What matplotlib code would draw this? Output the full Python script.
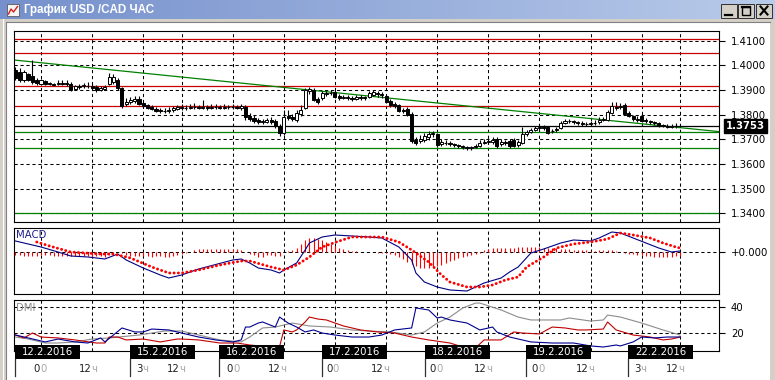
import numpy as np
import matplotlib
matplotlib.use("Agg")
import matplotlib.pyplot as plt
from matplotlib.patches import Rectangle
from matplotlib import transforms as mtrans
from matplotlib.colors import LinearSegmentedColormap

# ---------------- data (prices in 1e-4 units) ----------------
opens = [13981,13972,13940,13964,13956,13940,
 13924,13936,13928,13924,13924,13928,13928,13924,13904,13912,13916,13916,13916,13912,13899,13904,13924,13932,13940,13908,
 13843,13851,13855,13863,13847,13839,13831,13823,13819,13815,13815,13819,13823,13831,13827,13827,13831,13831,13827,13831,
 13827,13831,13831,13827,13831,13831,13831,13827,13831,13794,13786,13778,13770,13770,13778,13774,13754,13725,13794,13790,
 13778,13803,13827,13895,13899,13863,13867,13883,13887,13891,13875,13867,13871,13867,13863,13871,13867,13871,13879,13887,
 13883,13875,13855,13843,13839,13819,13823,13803,13697,13693,13697,13709,13721,13721,13681,13685,13685,13681,13677,13673,
 13669,13665,13669,13673,13685,13689,13689,13701,13681,13689,13693,13697,13677,13685,13721,13729,13737,13746,13750,13750,
 13733,13737,13746,13766,13774,13774,13770,13766,13762,13762,13766,13770,13778,13778,13807,13831,13831,13839,13807,13794,
 13782,13794,13778,13774,13770,13766,13758,13754,13750,13754,13754]
highs = [13993,13989,13981,13968,14021,13948,
 13944,13940,13932,13928,13940,13940,13940,13932,13920,13924,13928,13932,13928,13920,13916,13920,13968,13964,13948,13912,
 13867,13871,13875,13875,13851,13843,13839,13831,13827,13827,13831,13835,13839,13843,13839,13843,13847,13839,13859,13839,
 13843,13843,13839,13843,13839,13843,13839,13843,13839,13807,13799,13786,13782,13786,13790,13782,13762,13819,13819,13803,
 13819,13839,13908,13912,13908,13871,13895,13895,13899,13899,13883,13879,13879,13875,13879,13879,13875,13895,13899,13895,
 13891,13883,13863,13851,13843,13827,13831,13811,13709,13717,13725,13733,13733,13725,13701,13697,13693,13685,13681,13677,
 13673,13673,13681,13697,13701,13701,13709,13709,13701,13697,13701,13705,13697,13750,13737,13746,13754,13758,13758,13754,
 13742,13750,13774,13782,13782,13778,13774,13774,13770,13774,13778,13790,13790,13819,13851,13851,13847,13847,13815,13799,
 13794,13803,13786,13778,13774,13770,13762,13762,13762,13766,13758]
lows = [13940,13932,13932,13936,13924,13920,
 13920,13920,13920,13916,13920,13920,13916,13895,13899,13904,13908,13908,13899,13891,13895,13899,13920,13924,13899,13827,
 13835,13843,13847,13839,13831,13823,13819,13811,13807,13807,13807,13811,13819,13819,13819,13823,13823,13823,13823,13819,
 13823,13823,13823,13823,13823,13823,13823,13819,13778,13774,13766,13762,13762,13766,13762,13746,13713,13717,13778,13774,
 13770,13794,13823,13883,13855,13843,13859,13875,13879,13867,13859,13863,13859,13855,13859,13859,13859,13867,13875,13871,
 13867,13847,13831,13827,13811,13807,13794,13685,13677,13685,13689,13697,13709,13669,13673,13677,13673,13669,13665,13661,
 13657,13657,13665,13669,13681,13681,13681,13665,13673,13677,13665,13669,13669,13681,13713,13725,13733,13737,13737,13721,
 13725,13729,13742,13762,13766,13762,13758,13754,13754,13754,13758,13762,13774,13774,13803,13819,13823,13799,13790,13774,
 13770,13770,13766,13762,13758,13750,13750,13746,13746,13746,13750]
closes = [13948,13940,13972,13940,13932,13928,
 13940,13924,13924,13920,13928,13924,13924,13899,13916,13916,13920,13916,13908,13899,13908,13912,13952,13952,13908,13835,
 13851,13859,13863,13843,13835,13827,13823,13815,13815,13815,13819,13827,13831,13827,13827,13831,13831,13827,13831,13827,
 13831,13831,13827,13831,13831,13831,13827,13835,13790,13782,13774,13770,13774,13778,13770,13754,13725,13790,13786,13782,
 13807,13819,13899,13904,13859,13851,13887,13887,13887,13871,13867,13871,13867,13863,13871,13867,13871,13887,13891,13883,
 13879,13851,13839,13835,13815,13815,13799,13693,13685,13701,13713,13721,13725,13677,13689,13685,13681,13677,13673,13669,
 13665,13669,13673,13685,13689,13693,13697,13673,13689,13685,13673,13673,13689,13721,13729,13737,13746,13750,13746,13725,
 13733,13742,13766,13774,13774,13770,13766,13762,13762,13766,13766,13778,13782,13811,13835,13827,13835,13803,13794,13782,
 13778,13774,13774,13770,13766,13758,13754,13750,13754,13754,13753]
first_bar = -6

red_levels = [1.4105, 1.4051, 1.3914, 1.3833]
green_levels = [1.3728, 1.3663, 1.3400]
last_price = 1.3753
trend_bars = [-6.34, 159.15]
trend_prices = [1.4021, 1.3731]

# MACD (1e-4 units)
macd_hist = [-3,-3,-4,-4,-4,-4,
 -3,-3,-3,-4,-4,-4,-4,
 -4,-4,-4,-4,-4,-5,-4,
 -4,-5,-3,-1,0,-1,
 -3,-4,-4,-4,-4,-4,
 -5,-4,-4,-5,-5,-4,-3,
 -2,-1,0,
 2,3,3,3,3,3,3,3,3,3,3,2,
 0,-2,
 -3,-5,-5,-3,-3,-4,-4,
 0,1,2,
 4,8,12,14,14,13,12,10,8,6,4,3,2,1,1,0,0,0,0,-1,-1,
 -1,-2,-3,-5,-7,-10,-12,-14,-16,-16,-16,-15,-14,-13,-11,-9,-8,-6,-5,-4,-3,-2,-1,2,3,4,4,4,4,4,4,5,
 5,5,5,5,5,4,4,4,4,3,3,3,2,2,2,2,1,1,2,2,2,2,1,0,-1,-2,-2,-3,-3,-4,-4,-5,-5,-5,-5,-5,-4,-4]
macd_bars = [-6,-3,0,4,7,11,15,18,20,24,28,30,33,37,45,47,49,51,54,56,57,60,62,63,66,69,73,77,80,84,
             87,88,90,93,96,100,104,108,110,112,115,118,122,125,129,131,134,136,139,142,145,148,150]
macd_main = [11,8,5,0,-4,-5,-7,-2,-8,-16,-23,-26,-23,-17,-8,-7,-11,-16,-18,-21,-18,-11,2,9,15,17,16,15,14,5,
             -8,-21,-30,-35,-38,-39,-31,-26,-20,-15,-1,3,9,12,11,14,20,19,14,9,4,0,1]
signal_bars = [-1,2,7,14,17,21,26,30,33,37,42,47,49,54,57,60,63,66,70,73,77,80,84,87,91,94,96,100,103,106,
               109,112,114,118,121,125,129,133,136,139,143,146,149,150]
signal_vals = [10,6,0,-2,-2,-6,-15,-21,-21,-18,-13,-9,-9,-15,-18,-13,-5,5,11,15,15,15,10,2,-10,-23,-30,-35,-35,-33,
               -28,-25,-15,-5,4,8,10,13,19,17,14,9,5,4]

# DMI
plus_bars = [-6,-3,1,4,8,11,14,15,17,19,22,24,26,30,33,37,41,45,47,48,49,51,52,55,56,58,60,62,64,66,
             69,73,77,80,83,87,88,91,93,94,96,100,103,106,107,110,115,120,125,129,132,135,136,139,141,144,147,150]
plus_vals = [18.7,16.5,13.5,15.7,13.5,12.7,16.5,13.5,18.7,24,21,21,23.2,22.5,20.2,17.2,15,13.5,15,24.7,
             24.7,27.7,28.5,24.7,32.2,27.7,24.7,21,22.5,20.2,18.7,17.2,17.2,18.7,22.5,24,39,37.5,31.5,32.2,
             30,27.7,22.5,24.7,21,17.2,13.5,12.7,12.7,10.5,9.7,11.2,10.5,13.5,17.2,16.5,17.2,17.2]
minus_bars = [-6,-4,-2,0,4,8,13,15,16,18,20,24,28,32,33,37,42,46,49,54,56,57,59,60,62,63,65,67,69,71,
              75,79,83,87,91,96,99,102,104,108,111,113,117,120,123,126,128,132,133,135,139,143,146,148,150]
minus_vals = [18.7,16.5,20.2,17.2,16.5,15,12.7,12.7,17.2,17.2,15,15.7,13.5,15.7,15.7,15,12.7,12.7,11.2,9.7,
              10,22.5,21,22.5,28.5,32.2,30.7,30,27.7,25.5,22.5,21,20.2,17.2,15,12.7,9.7,9,15,15,
              21,20.2,19.5,24.7,24,22.5,22.5,23.2,28.5,22.5,18.7,17.2,15,15.7,17.2]
adx_bars = [-6,-3,1,4,8,12,16,23,29,33,37,42,47,49,52,55,59,63,68,73,77,82,87,90,93,96,99,102,103,108,
            112,115,122,124,129,132,133,136,141,146,150]
adx_vals = [17.2,15.7,12.7,12.7,13.5,15.7,16.5,18.7,21.7,21.7,18.7,15,13.5,17.2,24,24.7,27.7,25.5,24.7,22.5,
            21.7,21,18.7,21,27.7,32.2,39,42.7,42.7,37.5,32.2,30,30,31.5,29.2,30,33.7,32.2,27.7,22.5,18.7]

price_ticks = [1.34, 1.35, 1.36, 1.37, 1.38, 1.39, 1.40, 1.41]
grid_bars = [0, 12, 24, 33, 45, 57, 69, 81, 93, 105, 117, 129, 141, 150]
date_labels = ['12.2.2016', '15.2.2016', '16.2.2016', '17.2.2016', '18.2.2016', '19.2.2016', '22.2.2016']
date_box_bars = [-6.1, 20.9, 41.8, 66.0, 90.1, 113.8, 137.8]
hour_labels = ['00', '12ч', '3ч', '12ч', '00', '12ч', '00', '12ч', '00', '12ч', '00', '12ч', '3ч', '12ч']
hour_label_bars = [-0.2, 11.0, 23.7, 31.7, 45.1, 55.4, 68.5, 79.6, 92.7, 103.8, 116.7, 127.7, 140.6, 148.8]

# ---------------- figure ----------------
W, H, DPI = 775, 380, 100
plt.rcParams['font.family'] = ['DejaVu Sans']
plt.rcParams['lines.scale_dashes'] = False
FS = 7.3
DASH = (0, (2.3, 2.0))

fig = plt.figure(figsize=(W / DPI, H / DPI), dpi=DPI)
fig.patch.set_facecolor('#d4d0c8')


def prect(x0, y0, x1, y1):
    return [x0 / W, 1 - y1 / H, (x1 - x0) / W, (y1 - y0) / H]


bg = fig.add_axes([0, 0, 1, 1], zorder=0)
bg.axis('off')
grad = np.linspace(0, 1, 256)[None, :]
cmap = LinearSegmentedColormap.from_list('title', ['#7590cc', '#b9cbea'])
bg.imshow(grad, cmap=cmap, extent=(0, W, 19, 0), aspect='auto', zorder=1)
bg.add_patch(Rectangle((6, 22), 764, 360, fc='white', ec='none', zorder=1))
bg.plot([5.5, 5.5], [22, H], color='#808080', lw=0.8, zorder=2)
bg.plot([5.5, 770], [21.5, 21.5], color='#808080', lw=0.8, zorder=2)
bg.plot([2.5, 2.5], [19, H], color='#ffffff', lw=0.8, zorder=2)
bg.set_xlim(0, W)
bg.set_ylim(H, 0)
# title icon + text
bg.add_patch(Rectangle((7, 4), 12, 12, fc='#f4f4f4', ec='#5a5a5a', lw=0.6, zorder=3))
bg.plot([8.5, 11, 13.5, 17.5], [14, 9, 12, 6.5], color='#d02020', lw=1.0, zorder=4)
bg.text(24, 10, 'График USD /CAD ЧАС', color='white', fontweight='bold', fontsize=8.4,
        family=['Liberation Sans', 'DejaVu Sans'], va='center', ha='left', zorder=4)
# window buttons
for x0 in [721, 738, 756]:
    bg.add_patch(Rectangle((x0, 3.5), 16, 14, fc='#d4d0c8', ec='#303030', lw=0.7, zorder=3))
bg.plot([725, 732], [14.5, 14.5], color='black', lw=1.6, zorder=4)
bg.add_patch(Rectangle((742, 6.5), 8, 8, fc='none', ec='black', lw=1.0, zorder=4))
bg.plot([742, 750], [7, 7], color='black', lw=1.6, zorder=4)
bg.plot([760.5, 767.5], [6.5, 14.5], color='black', lw=1.5, zorder=4)
bg.plot([760.5, 767.5], [14.5, 6.5], color='black', lw=1.5, zorder=4)

XL, XR = -6.34, 159.15


def style_panel(a):
    a.set_facecolor('white')
    for s in a.spines.values():
        s.set_color('black')
        s.set_linewidth(0.8)
    a.set_xlim(XL, XR)
    a.set_xticks(grid_bars)
    a.tick_params(axis='x', length=0, labelbottom=False)
    a.yaxis.tick_right()
    a.tick_params(axis='y', direction='out', length=4, width=0.8, pad=4.5,
                  labelsize=FS, colors='black', left=False, labelleft=False)
    a.grid(True, color='black', linestyle=DASH, linewidth=0.75, zorder=0)
    a.set_axisbelow(True)


# ---- main price panel ----
ax = fig.add_axes(prect(14, 31, 719, 222), zorder=2)
style_panel(ax)
ax.set_ylim(1.33649, 1.41385)
ax.set_yticks(price_ticks)
ax.set_yticklabels(['%.4f' % v for v in price_ticks])

for lv in red_levels:
    ax.axhline(lv, color='#c80000', lw=0.9, zorder=1)
for lv in green_levels:
    ax.axhline(lv, color='#008000', lw=0.9, zorder=1)
ax.axhline(last_price, color='black', lw=0.9, zorder=1)
ax.plot(trend_bars, trend_prices, color='#008000', lw=0.9, zorder=1.5)

o = np.array(opens) / 1e4
h = np.array(highs) / 1e4
l = np.array(lows) / 1e4
c = np.array(closes) / 1e4
bars = np.arange(len(c)) + first_bar
ax.vlines(bars, l, h, color='black', lw=0.8, zorder=2)
bull = c > o
bear = c < o
doji = c == o
BW = 0.72
ax.bar(bars[bull], (c - o)[bull], bottom=o[bull], width=BW, facecolor='white',
       edgecolor='black', linewidth=0.7, zorder=3)
ax.bar(bars[bear], (o - c)[bear], bottom=c[bear], width=BW, facecolor='black',
       edgecolor='black', linewidth=0.7, zorder=3)
ax.hlines(o[doji], bars[doji] - BW / 2, bars[doji] + BW / 2, color='black', lw=0.8, zorder=3)

ax.text(1.0, last_price, '%.4f' % last_price,
        transform=mtrans.blended_transform_factory(ax.transAxes, ax.transData)
        + mtrans.ScaledTranslation(5 / 72, 0, fig.dpi_scale_trans),
        ha='left', va='center', color='white', fontsize=FS, fontweight='bold', zorder=10,
        clip_on=False,
        bbox=dict(boxstyle='square,pad=0.22', fc='black', ec='black'))

# ---- MACD panel ----
axm = fig.add_axes(prect(14, 228, 719, 294), zorder=2)
style_panel(axm)
axm.set_ylim(-0.0042, 0.0024)
axm.set_yticks([0])
axm.set_yticklabels(['+0.000'])
hb = np.arange(len(macd_hist)) + first_bar
axm.vlines(hb, 0, np.array(macd_hist) * 1e-4, color='#ff0000', lw=0.8, zorder=2)
axm.plot(macd_bars, np.array(macd_main) * 1e-4, color='#000080', lw=0.8, zorder=3)
axm.plot(signal_bars, np.array(signal_vals) * 1e-4, color='#ff0000', lw=2.1,
         linestyle=(0, (0.1, 3.0)), dash_capstyle='round', zorder=4)
axm.text(0.003, 0.9, 'MACD', transform=axm.transAxes, color='#1e1e8c', fontsize=FS,
         ha='left', va='center', zorder=5)

# ---- DMI panel ----
axd = fig.add_axes(prect(14, 300, 719, 351), zorder=2)
style_panel(axd)
axd.set_ylim(6.7, 45)
axd.set_yticks([20, 40])
axd.set_yticklabels(['20', '40'])
axd.plot(adx_bars, adx_vals, color='#8c8c8c', lw=0.8, zorder=2)
axd.plot(minus_bars, minus_vals, color='#c00000', lw=0.8, zorder=3)
axd.plot(plus_bars, plus_vals, color='#000090', lw=0.8, zorder=4)
axd.text(0.003, 0.84, 'DMI', transform=axd.transAxes, color='#8c8c8c', fontsize=FS,
         ha='left', va='center', zorder=5)

# ---- time scale overlay ----
ov = fig.add_axes([0, 0, 1, 1], zorder=5)
ov.axis('off')
ov.patch.set_alpha(0)
ov.set_xlim(0, W)
ov.set_ylim(H, 0)
bt = mtrans.blended_transform_factory(axd.transData, ov.transData)
BOXW = 15.3
for lab, xb in zip(date_labels, date_box_bars):
    ov.add_patch(Rectangle((xb, 345), BOXW, 14, transform=bt, fc='black', ec='black',
                           lw=0, clip_on=False))
    ov.text(xb + BOXW / 2, 352.3, lab, transform=bt, color='white', fontsize=FS,
            ha='center', va='center', clip_on=False)
    ov.plot([xb, xb], [359, 376], transform=bt, color='#303030', lw=0.9, clip_on=False)

renderer = fig.canvas.get_renderer()
tr_disp = mtrans.blended_transform_factory(mtrans.IdentityTransform(), ov.transData)
for lab, xb in zip(hour_labels, hour_label_bars):
    tmp = ov.text(xb, 368.5, lab, transform=bt, fontsize=FS, ha='center', va='center')
    bb = tmp.get_window_extent(renderer=renderer)
    tmp.remove()
    t1 = ov.text(bb.x0, 368.5, lab[:-1], transform=tr_disp, color='#202020', fontsize=FS,
                 ha='left', va='center', clip_on=False)
    b1 = t1.get_window_extent(renderer=renderer)
    ov.text(b1.x1, 368.5, lab[-1], transform=tr_disp, color='#a8a8a8', fontsize=FS,
            ha='left', va='center', clip_on=False)

fig.savefig('out.png', dpi=DPI, facecolor=fig.get_facecolor())
